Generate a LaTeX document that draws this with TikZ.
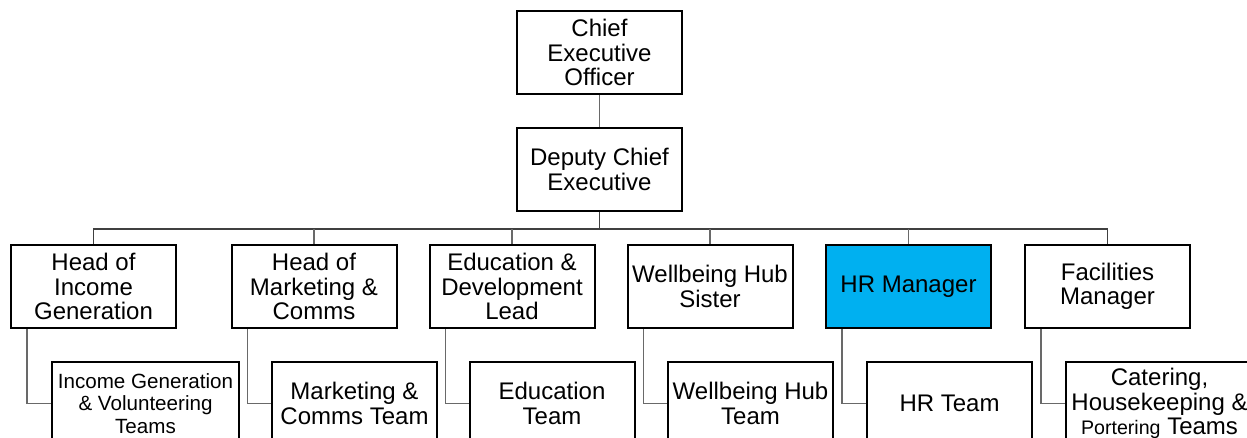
\documentclass[tikz,border=0pt]{standalone}
\usepackage{fontspec}
\setmainfont{Liberation Sans}
\definecolor{hrblue}{RGB}{0,176,240}
\definecolor{linkgrey}{RGB}{105,105,105}
\begin{document}
\begin{tikzpicture}[x=0.5pt,y=-0.5pt,
  post/.style={draw=black,line width=1pt,fill=white,align=center,
    inner sep=0.5pt,minimum height=41.5pt,minimum width=82.5pt,
    font=\fontsize{12}{12.2}\selectfont},
  widepost/.style={post,minimum width=93.5pt},
  link/.style={draw=linkgrey,line width=0.65pt},
  buslink/.style={draw=black!75,line width=0.9pt}]
\clip (0,0) rectangle (1247,438);
\fill[white] (0,0) rectangle (1247,438);

% top of the chart
\node[post] (ceo) at (599.5,52.5) {Chief\\Executive\\Officer};
\node[post] (dep) at (599.5,169.5) {Deputy Chief\\Executive};

% heads of department
\node[post] (h1) at (93.5,286.5) {Head of\\Income\\Generation};
\node[post] (h2) at (314,286.5) {Head of\\Marketing \&\\Comms};
\node[post] (h3) at (512,286.5) {Education \&\\Development\\Lead};
\node[post] (h4) at (710,286.5) {Wellbeing Hub\\Sister};
\node[post,fill=hrblue] (h5) at (908.5,286.5) {HR Manager};
\node[post] (h6) at (1107.5,286.5) {Facilities\\Manager};

% teams
\node[widepost,font=\fontsize{10.3}{11.2}\selectfont] (t1) at (145.5,403.5)
  {Income Generation\\\& Volunteering\\Teams};
\node[post] (t2) at (354.5,403.5) {Marketing \&\\Comms Team};
\node[post] (t3) at (552,403.5) {Education\\Team};
\node[post] (t4) at (750.5,403.5) {Wellbeing Hub\\Team};
\node[post] (t5) at (949.5,403.5) {HR Team};
\node[widepost] (t6) at (1159.5,403.5)
  {Catering,\\Housekeeping \&\\{\fontsize{9.8}{10}\selectfont Portering} Teams};

% reporting lines
\draw[link] (ceo) -- (dep);
\coordinate (bus) at (599.5,229);
\draw[buslink] (dep.south) -- (bus);
\draw[buslink] (h1.north) |- (bus) -| (h6.north);
\foreach \h in {h2,h3,h4,h5}
  \draw[link] (\h.north) -- (\h.north |- bus);
\foreach \h/\t in {h1/t1,h2/t2,h3/t3,h4/t4,h5/t5,h6/t6}
  \draw[link] ([xshift=8.5pt]\h.south west) |- (\t.west);
\end{tikzpicture}
\end{document}
